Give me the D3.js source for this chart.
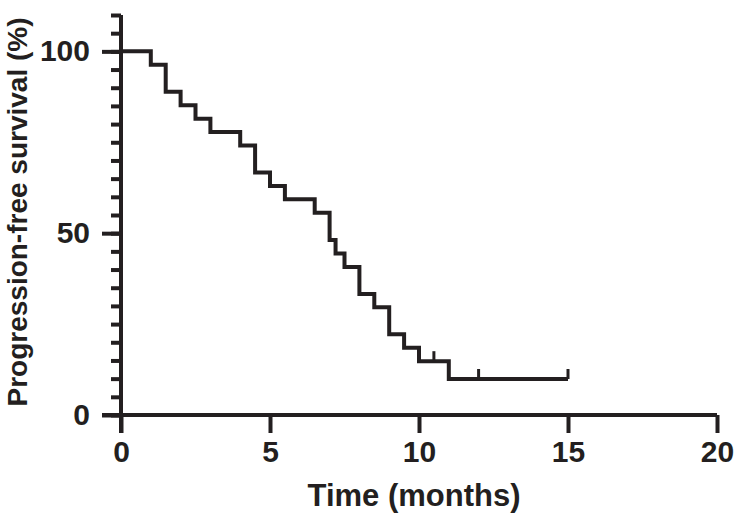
<!DOCTYPE html>
<html lang="en">
<head>
<meta charset="utf-8">
<title>PFS curve</title>
<script src="https://cdn.jsdelivr.net/npm/d3@7"></script>
<style>
  body { margin: 0; background: #fff; }
  svg text { font-family: "Liberation Sans", Arial, Helvetica, sans-serif; font-weight: bold; fill: #231f20; }
</style>
</head>
<body>
<div id="chart"></div>
<script>
// step times (months) and survival (%) after each step
var stepTimes = [0, 1, 1.5, 2, 2.5, 3, 4, 4.5, 5, 5.5, 6.5, 7, 7.2, 7.5, 8, 8.5, 9, 9.5, 10, 11];
var survival  = [100, 96.3, 88.9, 85.2, 81.5, 77.8, 74.1, 66.7, 63.0, 59.3, 55.6, 48.1, 44.4, 40.7, 33.3, 29.6, 22.2, 18.5, 14.8, 9.9];
var censorTimes = [10.5, 12, 15];
var endTime = 15;

var xTicks = [0, 5, 10, 15, 20];
var yMajor = [0, 50, 100];
var yMinor = d3.range(0, 111, 5);

var W = 736, H = 524;
var ink = "#231f20";

var svg = d3.select("#chart").append("svg")
  .attr("width", W).attr("height", H);

var x = d3.scaleLinear().domain([0, 20]).range([121, 717]);
var y = d3.scaleLinear().domain([0, 110]).range([415, 15]);

// y minor ticks + axis line
var yMinorAxis = d3.axisLeft(y).tickValues(yMinor).tickSize(10).tickSizeOuter(0).tickFormat("");
var gyMin = svg.append("g").attr("transform", "translate(" + x(0) + ",0)").call(yMinorAxis);

// y major ticks with labels
var yMajorAxis = d3.axisLeft(y).tickValues(yMajor).tickSize(19).tickSizeOuter(0).tickPadding(12);
var gy = svg.append("g").attr("transform", "translate(" + x(0) + ",0)").call(yMajorAxis);
gy.select(".domain").remove();

// x axis
var xAxis = d3.axisBottom(x).tickValues(xTicks).tickSize(18).tickSizeOuter(0).tickPadding(8);
var gx = svg.append("g").attr("transform", "translate(0," + y(0) + ")").call(xAxis);

svg.selectAll(".domain, .tick line")
  .attr("stroke", ink).attr("stroke-width", 4);
svg.selectAll(".tick text")
  .attr("fill", ink).style("font-size", "30px")
  .style("font-family", "'Liberation Sans', Arial, sans-serif").style("font-weight", "bold");
// extend y axis line down to the x 0 tick, x axis left to y 0 tick
gyMin.select(".domain").attr("d", "M0," + (y(0) + 18) + "V" + y(110));
gx.select(".domain").attr("d", "M" + (x(0) - 19) + ",0H" + x(20));

// step curve
var pts = stepTimes.map(function(t, i) { return [t, survival[i]]; });
pts.push([endTime, survival[survival.length - 1]]);
var line = d3.line()
  .x(function(d) { return x(d[0]); })
  .y(function(d) { return y(d[1]); })
  .curve(d3.curveStepAfter);
svg.append("path")
  .datum(pts)
  .attr("fill", "none")
  .attr("stroke", ink)
  .attr("stroke-width", 4)
  .attr("d", line);

// censor marks
function survAt(t) {
  var s = 100;
  for (var i = 0; i < stepTimes.length; i++) if (stepTimes[i] <= t) s = survival[i];
  return s;
}
svg.selectAll("line.censor")
  .data(censorTimes)
  .enter().append("line")
  .attr("class", "censor")
  .attr("x1", function(d) { return x(d); })
  .attr("x2", function(d) { return x(d); })
  .attr("y1", function(d) { return y(survAt(d)); })
  .attr("y2", function(d) { return y(survAt(d)) - 10; })
  .attr("stroke", ink).attr("stroke-width", 3);

// axis titles
svg.append("text")
  .attr("x", 414)
  .attr("y", 506)
  .attr("text-anchor", "middle")
  .style("font-size", "31px")
  .text("Time (months)");

svg.append("text")
  .attr("transform", "translate(27," + 212 + ") rotate(-90)")
  .attr("text-anchor", "middle")
  .style("font-size", "28px")
  .text("Progression-free survival (%)");
</script>
</body>
</html>
